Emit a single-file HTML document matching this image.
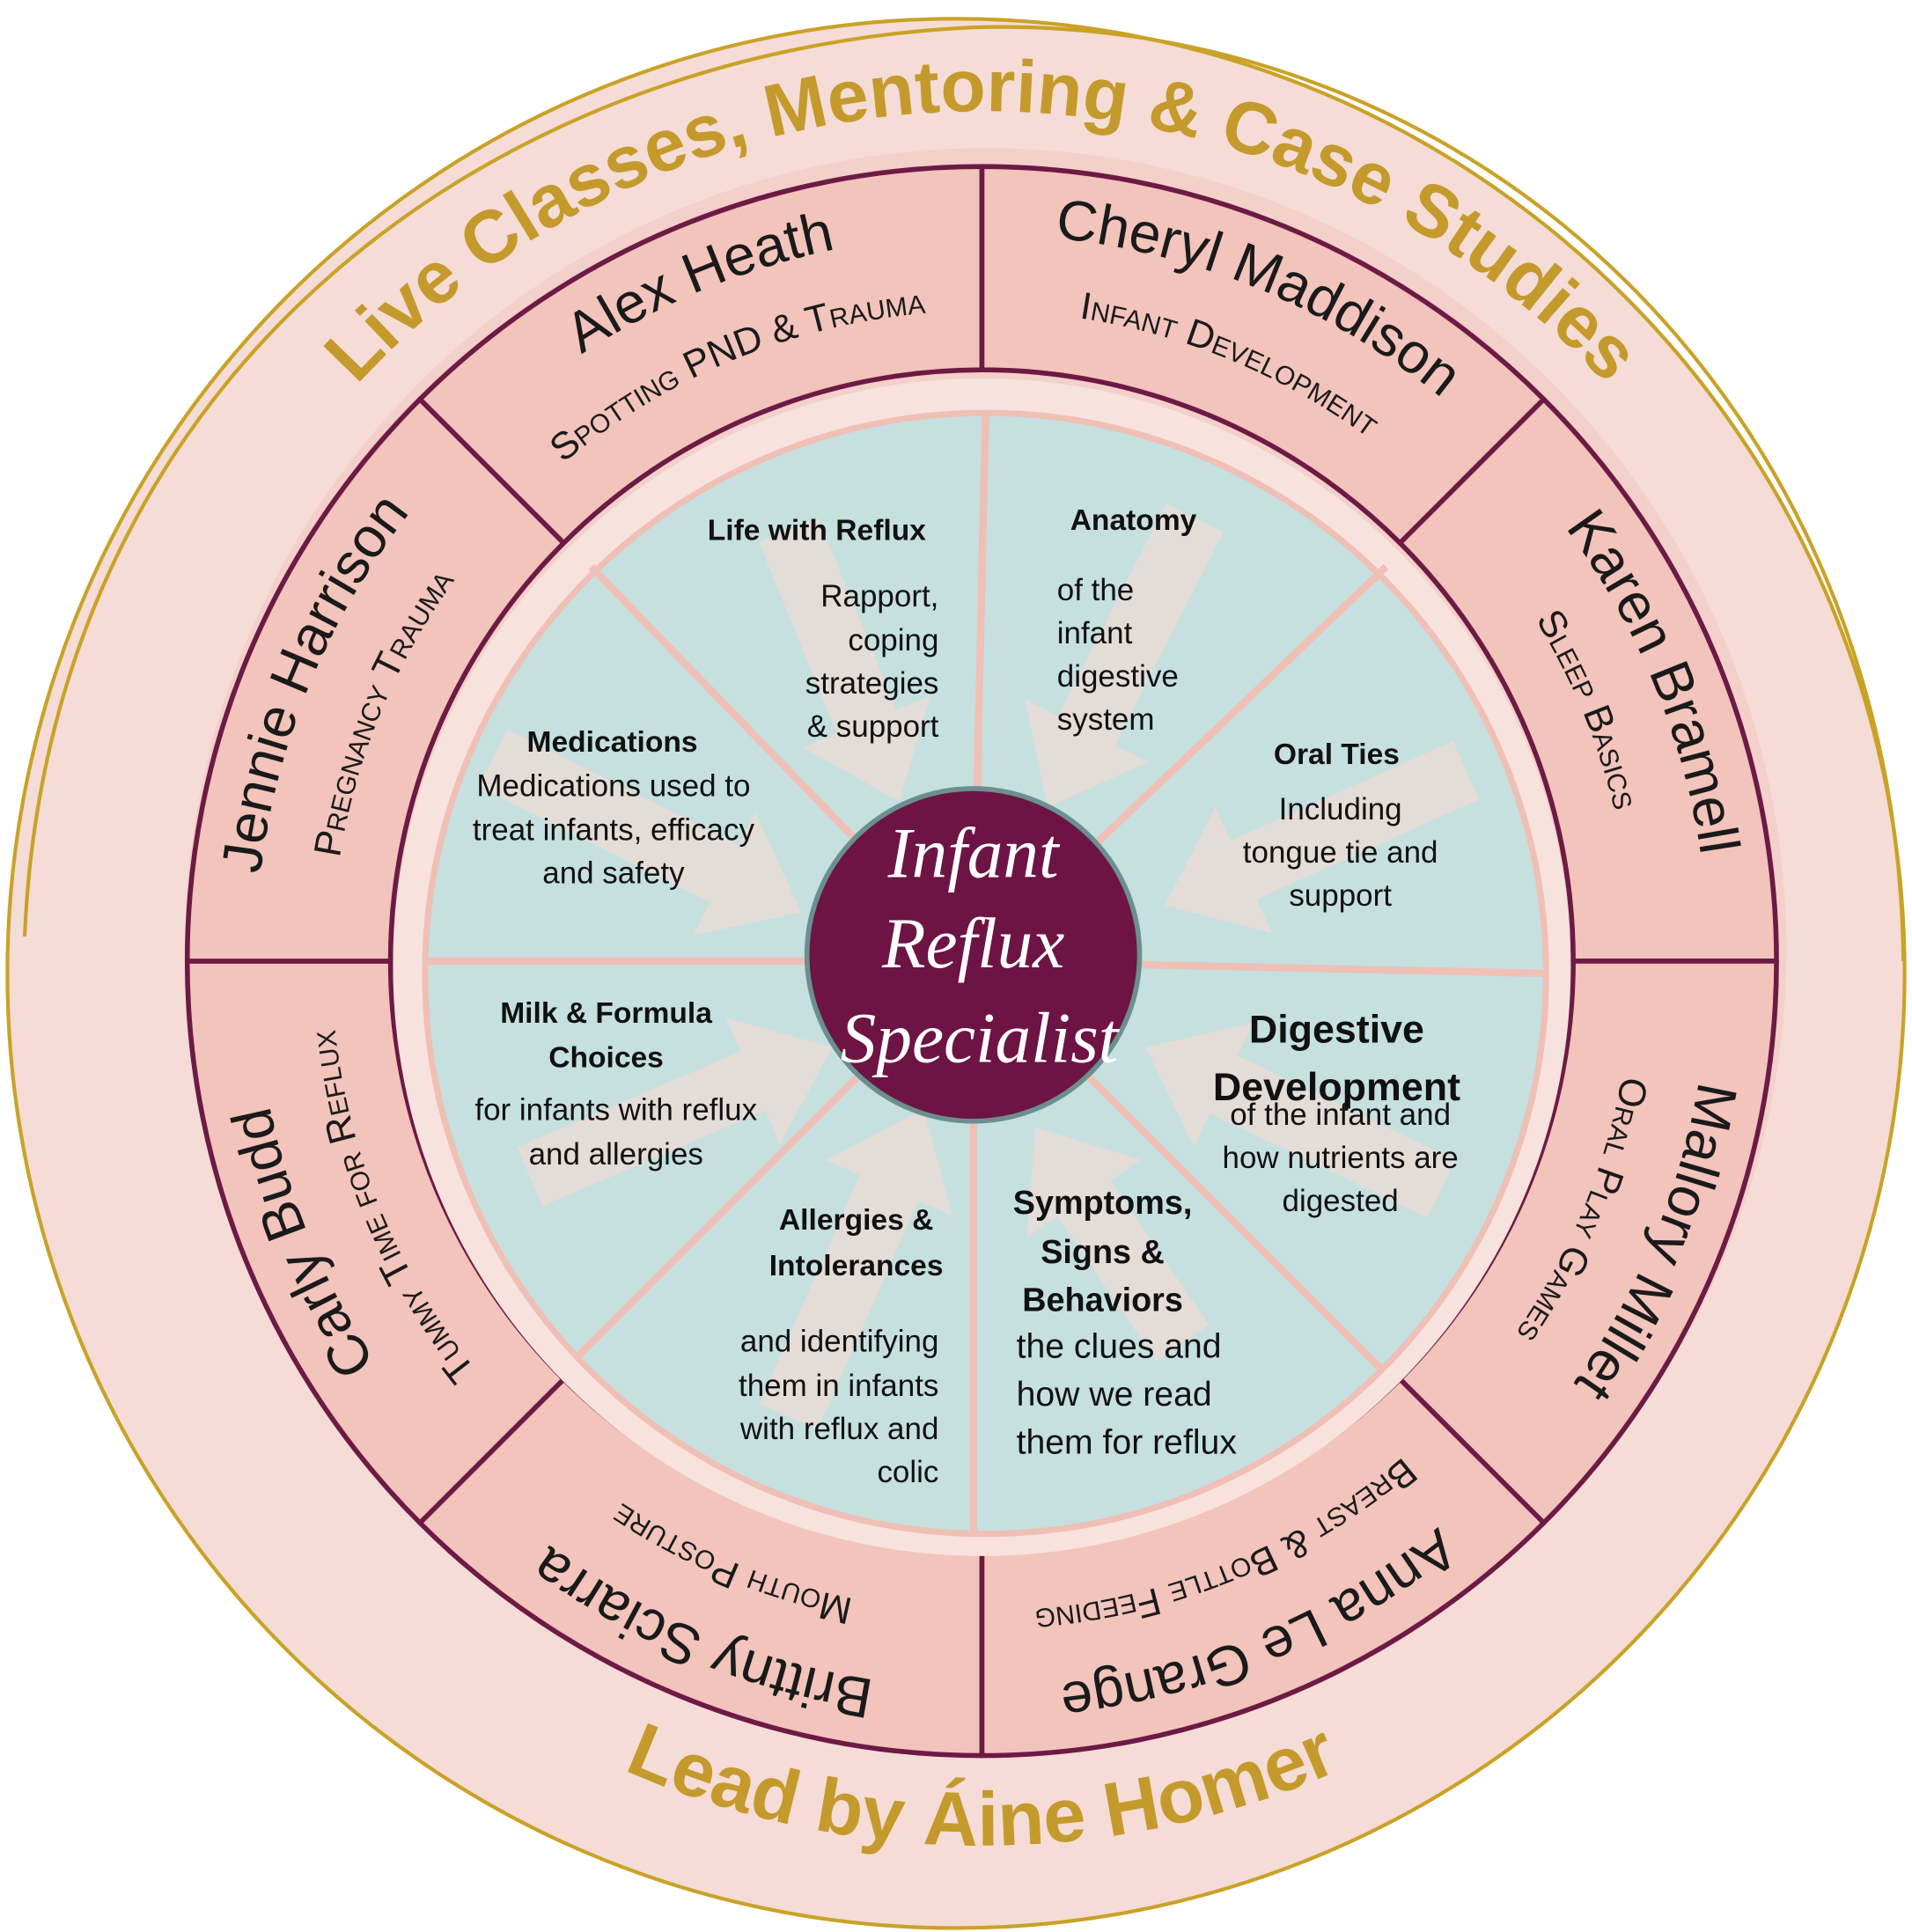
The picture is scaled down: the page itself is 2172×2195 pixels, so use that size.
<!DOCTYPE html>
<html><head><meta charset="utf-8"><style>
html,body{margin:0;padding:0;background:#fff;}
svg{display:block;}
.nm{font-family:"Liberation Sans",sans-serif;font-size:46px;fill:#1a1a1a;}
.sb{font-family:"Liberation Sans",sans-serif;font-size:31px;fill:#1a1a1a;font-variant:small-caps;}
.ttl{font-family:"Liberation Sans",sans-serif;font-weight:bold;font-size:60px;fill:#c49a2c;letter-spacing:0px;}
.ttl2{font-family:"Liberation Sans",sans-serif;font-weight:bold;font-size:62px;fill:#c49a2c;}
.b{font-family:"Liberation Sans",sans-serif;font-weight:bold;font-size:24px;fill:#111;}
.t{font-family:"Liberation Sans",sans-serif;font-size:25px;fill:#111;}
.cs{font-family:"Liberation Serif",serif;font-style:italic;font-size:58px;fill:#fff;}
</style></head><body>
<svg width="2172" height="2195" viewBox="0 0 1552 1568" xmlns="http://www.w3.org/2000/svg">
<defs>
<path id="pn" d="M797,190 A590,590 0 1 1 797,1370 A590,590 0 1 1 797,190"/>
<path id="ps" d="M797,252 A528,528 0 1 1 797,1308 A528,528 0 1 1 797,252"/>
<path id="pt" d="M797,1470 A690,690 0 1 1 797,90 A690,690 0 1 1 797,1470"/>
<path id="pb" d="M797,62 A718,718 0 1 0 797,1498 A718,718 0 1 0 797,62"/>
</defs>
<ellipse cx="776" cy="790" rx="770" ry="775" fill="#f6dcd6"/>
<ellipse cx="776" cy="790" rx="770" ry="775" fill="none" stroke="#c9a227" stroke-width="3"/>
<path d="M20,760 C40,300 400,40 790,22 C1200,10 1540,330 1545,780" fill="none" stroke="#c9a227" stroke-width="3"/>
<circle cx="800" cy="770" r="650" fill="#f1c8bf" opacity="0.6"/>
<g fill="#f2c4bb" stroke="#6d1a45" stroke-width="4" stroke-linejoin="round">
<path d="M797,135 A645,645 0 0 1 1253.1,323.9 L1136.4,440.6 A480,480 0 0 0 797,300 Z"/>
<path d="M1253.1,323.9 A645,645 0 0 1 1442,780 L1277,780 A480,480 0 0 0 1136.4,440.6 Z"/>
<path d="M1442,780 A645,645 0 0 1 1253.1,1236.1 L1136.4,1119.4 A480,480 0 0 0 1277,780 Z"/>
<path d="M1253.1,1236.1 A645,645 0 0 1 797,1425 L797,1260 A480,480 0 0 0 1136.4,1119.4 Z"/>
<path d="M797,1425 A645,645 0 0 1 340.9,1236.1 L457.6,1119.4 A480,480 0 0 0 797,1260 Z"/>
<path d="M340.9,1236.1 A645,645 0 0 1 152,780 L317,780 A480,480 0 0 0 457.6,1119.4 Z"/>
<path d="M152,780 A645,645 0 0 1 340.9,323.9 L457.6,440.6 A480,480 0 0 0 317,780 Z"/>
<path d="M340.9,323.9 A645,645 0 0 1 797,135 L797,300 A480,480 0 0 0 457.6,440.6 Z"/>
</g>
<circle cx="797" cy="785" r="478" fill="#f7e2dd"/>
<circle cx="800" cy="790" r="455" fill="#c5e0df" stroke="#f0bfb5" stroke-width="5"/>
<g stroke="#f0bfb5" stroke-width="6">
<line x1="790" y1="780" x2="800" y2="335"/><line x1="790" y1="780" x2="1125" y2="460"/>
<line x1="790" y1="780" x2="1255" y2="790"/><line x1="790" y1="780" x2="1120" y2="1110"/>
<line x1="790" y1="780" x2="790" y2="1245"/><line x1="790" y1="780" x2="470" y2="1100"/>
<line x1="790" y1="780" x2="345" y2="780"/><line x1="790" y1="780" x2="480" y2="460"/>
</g>
<g fill="#e8dcd6" opacity="0.9">
<polygon transform="translate(640,430) rotate(67.8)" points="0,-26 168,-26 168,-56 238,0 168,56 168,26 0,26"/>
<polygon transform="translate(970,420) rotate(117)" points="0,-26 194,-26 194,-56 264,0 194,56 194,26 0,26"/>
<polygon transform="translate(1190,625) rotate(155.8)" points="0,-26 198,-26 198,-56 268,0 198,56 198,26 0,26"/>
<polygon transform="translate(1170,965) rotate(205.6)" points="0,-26 196,-26 196,-56 266,0 196,56 196,26 0,26"/>
<polygon transform="translate(960,1090) rotate(235.6)" points="0,-26 142,-26 142,-56 212,0 142,56 142,26 0,26"/>
<polygon transform="translate(640,1150) rotate(-66.3)" points="0,-26 203,-26 203,-56 273,0 203,56 203,26 0,26"/>
<polygon transform="translate(430,955) rotate(-23.2)" points="0,-26 197,-26 197,-56 267,0 197,56 197,26 0,26"/>
<polygon transform="translate(400,615) rotate(26.6)" points="0,-26 210,-26 210,-56 280,0 210,56 210,26 0,26"/>
</g>
<circle cx="790" cy="775" r="135" fill="#6d1444" stroke="#6b8f8f" stroke-width="4"/>
<text class="cs" x="790" y="712" text-anchor="middle">Infant</text>
<text class="cs" x="790" y="785" text-anchor="middle">Reflux</text>
<text class="cs" x="795" y="862" text-anchor="middle">Specialist</text>
<text class="ttl"><textPath href="#pt" startOffset="50%" text-anchor="middle">Live Classes, Mentoring &amp; Case Studies</textPath></text>
<text class="ttl2"><textPath href="#pb" startOffset="50%" text-anchor="middle">Lead by Áine Homer</textPath></text>
<g>
<text class="nm"><textPath href="#pn" startOffset="93.75%" text-anchor="middle">Alex Heath</textPath></text>
<text class="nm"><textPath href="#pn" startOffset="6.25%" text-anchor="middle">Cheryl Maddison</textPath></text>
<text class="nm"><textPath href="#pn" startOffset="18.75%" text-anchor="middle">Karen Bramell</textPath></text>
<text class="nm"><textPath href="#pn" startOffset="31.25%" text-anchor="middle">Mallory Millet</textPath></text>
<text class="nm"><textPath href="#pn" startOffset="43.75%" text-anchor="middle">Anna Le Grange</textPath></text>
<text class="nm"><textPath href="#pn" startOffset="56.25%" text-anchor="middle">Brittny Sciarra</textPath></text>
<text class="nm"><textPath href="#pn" startOffset="68.75%" text-anchor="middle">Carly Budd</textPath></text>
<text class="nm"><textPath href="#pn" startOffset="81.25%" text-anchor="middle">Jennie Harrison</textPath></text>
<text class="sb"><textPath href="#ps" startOffset="93.75%" text-anchor="middle">Spotting PND &amp; Trauma</textPath></text>
<text class="sb"><textPath href="#ps" startOffset="6.25%" text-anchor="middle">Infant Development</textPath></text>
<text class="sb"><textPath href="#ps" startOffset="18.75%" text-anchor="middle">Sleep Basics</textPath></text>
<text class="sb"><textPath href="#ps" startOffset="31.25%" text-anchor="middle">Oral Play Games</textPath></text>
<text class="sb"><textPath href="#ps" startOffset="43.75%" text-anchor="middle">Breast &amp; Bottle Feeding</textPath></text>
<text class="sb"><textPath href="#ps" startOffset="56.25%" text-anchor="middle">Mouth Posture</textPath></text>
<text class="sb"><textPath href="#ps" startOffset="68.75%" text-anchor="middle">Tummy Time for Reflux</textPath></text>
<text class="sb"><textPath href="#ps" startOffset="81.25%" text-anchor="middle">Pregnancy Trauma</textPath></text>
</g>
<text class="b" x="663" y="438" text-anchor="middle">Life with Reflux</text>
<g class="t" text-anchor="end"><text x="762" y="492">Rapport,</text><text x="762" y="528">coping</text><text x="762" y="563">strategies</text><text x="762" y="598">&amp; support</text></g>
<text class="b" x="920" y="430" text-anchor="middle">Anatomy</text>
<g class="t"><text x="858" y="487">of the</text><text x="858" y="522">infant</text><text x="858" y="557">digestive</text><text x="858" y="592">system</text></g>
<text class="b" x="1085" y="620" text-anchor="middle">Oral Ties</text>
<g class="t" text-anchor="middle"><text x="1088" y="665">Including</text><text x="1088" y="700">tongue tie and</text><text x="1088" y="735">support</text></g>
<text class="b" x="1085" y="846" text-anchor="middle" style="font-size:32px">Digestive</text>
<text class="b" x="1085" y="893" text-anchor="middle" style="font-size:32px">Development</text>
<g class="t" text-anchor="middle"><text x="1088" y="913">of the infant and</text><text x="1088" y="948">how nutrients are</text><text x="1088" y="983">digested</text></g>
<g class="b" text-anchor="middle" style="font-size:27px"><text x="895" y="985">Symptoms,</text><text x="895" y="1025">Signs &amp;</text><text x="895" y="1064">Behaviors</text></g>
<g class="t" style="font-size:28px"><text x="825" y="1102">the clues and</text><text x="825" y="1141">how we read</text><text x="825" y="1180">them for reflux</text></g>
<g class="b" text-anchor="middle"><text x="695" y="998">Allergies &amp;</text><text x="695" y="1035">Intolerances</text></g>
<g class="t" text-anchor="end"><text x="762" y="1097">and identifying</text><text x="762" y="1133">them in infants</text><text x="762" y="1168">with reflux and</text><text x="762" y="1203">colic</text></g>
<g class="b" text-anchor="middle"><text x="492" y="830">Milk &amp; Formula</text><text x="492" y="866">Choices</text></g>
<g class="t" text-anchor="middle"><text x="500" y="909">for infants with reflux</text><text x="500" y="945">and allergies</text></g>
<text class="b" x="497" y="610" text-anchor="middle">Medications</text>
<g class="t" text-anchor="middle"><text x="498" y="646">Medications used to</text><text x="498" y="682">treat infants, efficacy</text><text x="498" y="717">and safety</text></g>
</svg>
</body></html>
